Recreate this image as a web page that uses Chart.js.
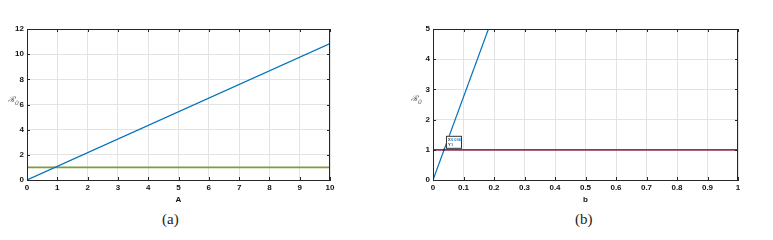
<!DOCTYPE html>
<html>
<head>
<meta charset="utf-8">
<script src="https://cdn.jsdelivr.net/npm/chart.js@4"></script>
<style>
  body { margin: 0; background: #fff; }
  #wrap { position: relative; width: 773px; height: 240px; overflow: hidden; }
  .panel { position: absolute; top: 0; }
  .ylab { position: absolute; font: italic 8px "DejaVu Serif", serif; color: #555; }
  .ylab sub { font-size: 6px; }
  .cap { position: absolute; top: 211px; font: 15px "Liberation Serif", "Times New Roman", serif; color: #222; }
</style>
</head>
<body>
<div id="wrap">
  <canvas id="chartA" class="panel" width="345" height="205" style="left:0"></canvas>
  <canvas id="chartB" class="panel" width="373" height="205" style="left:400px"></canvas>
  <span class="ylab" style="left:8px;top:93px">ℛ<sub>0</sub></span>
  <span class="ylab" style="left:411px;top:92px">ℛ<sub>0</sub></span>
  <span class="cap" style="left:162px">(a)</span>
  <span class="cap" style="left:575px">(b)</span>
</div>
<script>
// panel (a): R0 against A
const aX = [0, 10];
const aR0 = [0, 10.85];
const aThresh = [1, 1];
const aTicksX = [0, 1, 2, 3, 4, 5, 6, 7, 8, 9, 10];
const aTicksY = [0, 2, 4, 6, 8, 10, 12];

// panel (b): R0 against b
const bX = [0, 0.2];
const bR0 = [0, 5.5];
const bThreshX = [0, 1];
const bThresh = [1, 1];
const bTicksX = [0, 0.1, 0.2, 0.3, 0.4, 0.5, 0.6, 0.7, 0.8, 0.9, 1];
const bTicksY = [0, 1, 2, 3, 4, 5];
const tipX = 0.036, tipY = 1;

const tickFont = { family: 'Liberation Sans', size: 8, weight: 'bold' };

// box round the axes and little inward ticks like matlab
const boxPlugin = {
  id: 'box',
  afterDraw(chart) {
    const c = chart.ctx, a = chart.chartArea;
    const xs = chart.scales.x, ys = chart.scales.y;
    c.save();
    c.strokeStyle = '#262626';
    c.lineWidth = 1;
    c.strokeRect(a.left + 0.5, a.top + 0.5, a.right - a.left - 1, a.bottom - a.top);
    c.beginPath();
    xs.ticks.forEach(t => {
      const px = Math.round(xs.getPixelForValue(t.value)) + 0.5;
      c.moveTo(px, a.bottom); c.lineTo(px, a.bottom - 3);
      c.moveTo(px, a.top); c.lineTo(px, a.top + 3);
    });
    ys.ticks.forEach(t => {
      const py = Math.round(ys.getPixelForValue(t.value)) + 0.5;
      c.moveTo(a.left, py); c.lineTo(a.left + 3, py);
      c.moveTo(a.right, py); c.lineTo(a.right - 3, py);
    });
    c.stroke();
    c.restore();
  }
};

// the matlab data tip on panel (b)
const tipPlugin = {
  id: 'tip',
  afterDraw(chart) {
    if (!chart.options.plugins.tip || !chart.options.plugins.tip.show) return;
    const c = chart.ctx;
    const px = chart.scales.x.getPixelForValue(tipX);
    const py = chart.scales.y.getPixelForValue(tipY);
    c.save();
    c.fillStyle = '#fff';
    c.strokeStyle = '#333';
    c.lineWidth = 1;
    c.fillRect(px + 2, py - 14, 16, 13);
    c.strokeRect(px + 2.5, py - 13.5, 15, 12);
    c.font = 'bold 4px Liberation Sans';
    c.fillStyle = '#333';
    c.fillText('X', px + 4, py - 8.5);
    c.fillText('Y', px + 4, py - 3.5);
    c.fillStyle = '#1a7fd0';
    c.fillText(String(tipX), px + 7, py - 8.5);
    c.fillText(String(tipY), px + 7, py - 3.5);
    c.fillStyle = '#333';
    c.fillRect(px - 1, py - 1, 2, 2);
    c.restore();
  }
};

function makeChart(id, cfg) {
  return new Chart(document.getElementById(id), {
    type: 'line',
    data: { datasets: cfg.datasets },
    options: {
      responsive: false,
      animation: false,
      layout: { padding: { top: 29, right: cfg.padRight, left: 0, bottom: 0 } },
      plugins: { legend: { display: false }, tooltip: { enabled: false }, tip: { show: cfg.tip } },
      elements: { point: { radius: 0 } },
      scales: {
        x: {
          type: 'linear', min: cfg.xMin, max: cfg.xMax,
          afterBuildTicks: s => { s.ticks = cfg.ticksX.map(v => ({ value: v })); },
          afterFit: s => { s.height = 25; },
          grid: { color: '#e3e3e3', drawTicks: false },
          border: { color: '#262626' },
          ticks: { font: tickFont, color: '#111', padding: 3, maxRotation: 0, callback: v => String(v) },
          title: { display: true, text: cfg.xTitle, font: tickFont, color: '#111', padding: { top: 0, bottom: 0 } }
        },
        y: {
          type: 'linear', min: cfg.yMin, max: cfg.yMax,
          afterBuildTicks: s => { s.ticks = cfg.ticksY.map(v => ({ value: v })); },
          afterFit: s => { s.width = cfg.yWidth; },
          grid: { color: '#e3e3e3', drawTicks: false },
          border: { color: '#262626' },
          ticks: { font: tickFont, color: '#111', padding: 3, callback: v => String(v) }
        }
      }
    },
    plugins: [boxPlugin, tipPlugin]
  });
}

makeChart('chartA', {
  datasets: [
    { data: aX.map((x, i) => ({ x, y: aR0[i] })), borderColor: '#0072BD', borderWidth: 1.2 },
    { data: aX.map((x, i) => ({ x, y: aThresh[i] })), borderColor: '#7d9c3c', borderWidth: 1.6 }
  ],
  xMin: 0, xMax: 10, yMin: 0, yMax: 12,
  ticksX: aTicksX, ticksY: aTicksY,
  padRight: 15, yWidth: 27, xTitle: 'A', tip: false
});

makeChart('chartB', {
  datasets: [
    { data: bX.map((x, i) => ({ x, y: bR0[i] })), borderColor: '#0072BD', borderWidth: 1.2 },
    { data: bThreshX.map((x, i) => ({ x, y: bThresh[i] })), borderColor: '#8a3558', borderWidth: 1.8 }
  ],
  xMin: 0, xMax: 1, yMin: 0, yMax: 5,
  ticksX: bTicksX, ticksY: bTicksY,
  padRight: 35, yWidth: 33, xTitle: 'b', tip: true
});
</script>
</body>
</html>
